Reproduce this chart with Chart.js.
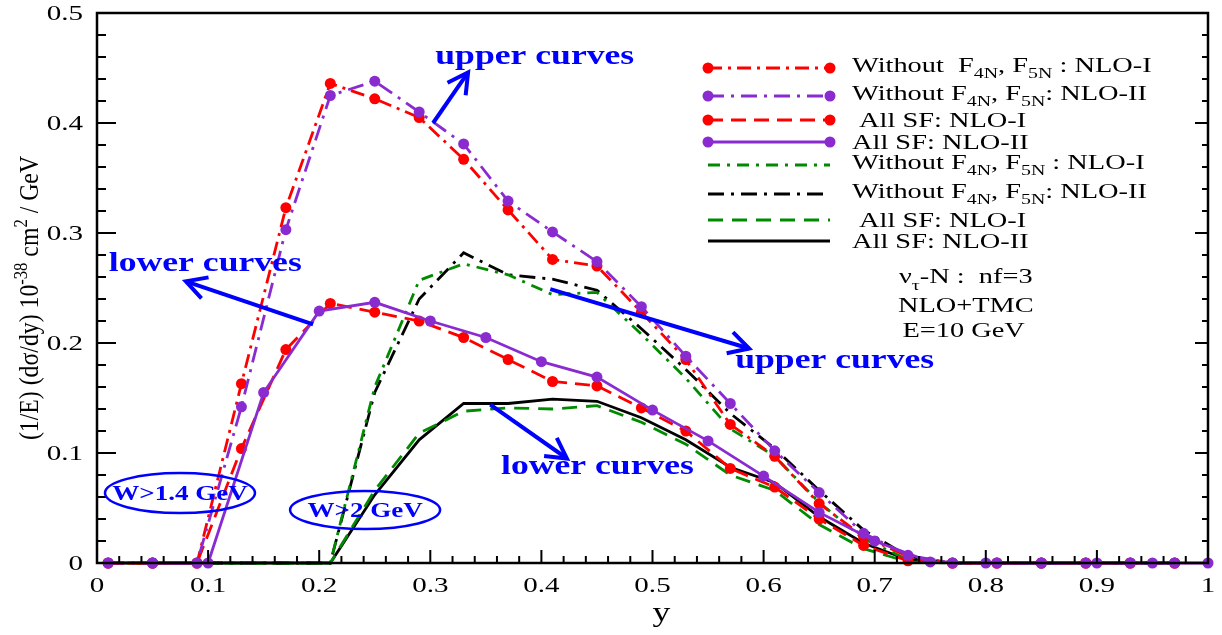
<!DOCTYPE html>
<html>
<head>
<meta charset="utf-8">
<script src="https://cdn.jsdelivr.net/npm/chart.js@4.4.1/dist/chart.umd.min.js"></script>
<style>
  html, body { margin: 0; padding: 0; background: #fff; overflow: hidden; }
  #wrap { width: 1222px; height: 635px; position: relative; }
</style>
</head>
<body>
<div id="wrap"><canvas id="chart" width="1222" height="635"></canvas></div>
<script>
// ---- data ---------------------------------------------------------------
// y grid used by the NLO-I / NLO-II "Without" and "All SF" curves (step 0.04)
const yA = [0.01, 0.05, 0.09, 0.13, 0.17, 0.21, 0.25, 0.29, 0.33, 0.37, 0.41, 0.45, 0.49,
            0.53, 0.57, 0.61, 0.65, 0.69, 0.73, 0.77, 0.81, 0.85, 0.89, 0.93, 0.97];
// y grid of the All SF NLO-II (W>1.4 GeV) curve (step 0.05)
const yB = [0.05, 0.10, 0.15, 0.20, 0.25, 0.30, 0.35, 0.40, 0.45, 0.50,
            0.55, 0.60, 0.65, 0.70, 0.75, 0.80, 0.85, 0.90, 0.95, 1.00];

// W > 1.4 GeV
const withoutNloI_w14  = [0, 0, 0, 0.163, 0.323, 0.436, 0.422, 0.405, 0.367, 0.321, 0.276, 0.270, 0.228,
                          0.185, 0.126, 0.097, 0.054, 0.024, 0.006, 0, 0, 0, 0, 0, 0];
const withoutNloII_w14 = [0, 0, 0, 0.142, 0.303, 0.425, 0.438, 0.410, 0.381, 0.329, 0.301, 0.274, 0.233,
                          0.188, 0.145, 0.102, 0.064, 0.027, 0.007, 0, 0, 0, 0, 0, 0];
const allSfNloI_w14    = [0, 0, 0, 0.104, 0.194, 0.236, 0.228, 0.220, 0.205, 0.185, 0.165, 0.161, 0.141,
                          0.120, 0.086, 0.069, 0.040, 0.016, 0.002, 0, 0, 0, 0, 0, 0];
const allSfNloII_w14   = [0, 0, 0.155, 0.229, 0.237, 0.220, 0.205, 0.183, 0.169, 0.139,
                          0.111, 0.079, 0.046, 0.020, 0.001, 0, 0, 0, 0, 0];

// W > 2 GeV
const withoutNloI_w2   = [0, 0, 0, 0, 0, 0, 0.160, 0.257, 0.272, 0.262, 0.244, 0.246, 0.208,
                          0.168, 0.122, 0.097, 0.055, 0.022, 0.003, 0, 0, 0, 0, 0, 0];
const withoutNloII_w2  = [0, 0, 0, 0, 0, 0, 0.155, 0.240, 0.282, 0.262, 0.258, 0.248, 0.213,
                          0.176, 0.136, 0.104, 0.066, 0.030, 0.006, 0, 0, 0, 0, 0, 0];
const allSfNloI_w2     = [0, 0, 0, 0, 0, 0, 0.066, 0.118, 0.138, 0.141, 0.140, 0.143, 0.128,
                          0.108, 0.080, 0.066, 0.035, 0.013, 0.001, 0, 0, 0, 0, 0, 0];
const allSfNloII_w2    = [0, 0, 0, 0, 0, 0, 0.062, 0.112, 0.145, 0.145, 0.149, 0.147, 0.132,
                          0.112, 0.087, 0.073, 0.042, 0.018, 0.003, 0, 0, 0, 0, 0, 0];

const seriesLabels = [
  'Without  F_{4N}, F_{5N} : NLO-I',
  'Without F_{4N}, F_{5N}: NLO-II',
  ' All SF: NLO-I',
  'All SF: NLO-II',
  'Without F_{4N}, F_{5N} : NLO-I',
  'Without F_{4N}, F_{5N}: NLO-II',
  ' All SF: NLO-I',
  'All SF: NLO-II'
];

const xTickLabels = ['0', '0.1', '0.2', '0.3', '0.4', '0.5', '0.6', '0.7', '0.8', '0.9', '1'];
const yTickLabels = ['0', '0.1', '0.2', '0.3', '0.4', '0.5'];

// ---- styling ------------------------------------------------------------
const RED = '#ff0000', VIOLET = '#8a2bd0', GREEN = '#008a00', BLACK = '#000000', BLUE = '#0000ff';
const SERIF = '"Liberation Serif", "Times New Roman", serif';
const SX = 1.32;   // horizontal stretch of the lettering

const styles = [
  { color: RED,    dash: [14, 6, 3, 6], marker: true,  order: 2 },
  { color: VIOLET, dash: [16, 7, 3, 7], marker: true,  order: 1 },
  { color: RED,    dash: [15, 8],       marker: true,  order: 2 },
  { color: VIOLET, dash: [],            marker: true,  order: 1 },
  { color: GREEN,  dash: [12, 7, 3, 7], marker: false, order: 3 },
  { color: BLACK,  dash: [16, 7, 3, 7], marker: false, order: 3 },
  { color: GREEN,  dash: [15, 9],       marker: false, order: 3 },
  { color: BLACK,  dash: [],            marker: false, order: 3 }
];
const seriesX = [yA, yA, yA, yB, yA, yA, yA, yA];
const seriesY = [withoutNloI_w14, withoutNloII_w14, allSfNloI_w14, allSfNloII_w14,
                 withoutNloI_w2, withoutNloII_w2, allSfNloI_w2, allSfNloII_w2];

// ---- rich text helpers (sub/superscripts) -------------------------------
function parseRich(s) {
  const runs = []; const re = /([_^])\{([^}]*)\}/g; let last = 0, m;
  while ((m = re.exec(s))) {
    if (m.index > last) runs.push({ t: s.slice(last, m.index), k: 0 });
    runs.push({ t: m[2], k: m[1] === '_' ? 1 : -1 });
    last = re.lastIndex;
  }
  if (last < s.length) runs.push({ t: s.slice(last), k: 0 });
  return runs;
}
function drawRich(ctx, s, x, y, o) {
  const size = o.size, weight = o.weight || 'normal';
  const sx = o.sx == null ? SX : o.sx, sy = o.sy || 1;
  const runs = parseRich(s);
  let w = 0;
  for (const r of runs) { ctx.font = `${weight} ${r.k ? size * 0.7 : size}px ${SERIF}`; w += ctx.measureText(r.t).width; }
  const W = w * sx;
  const x0 = o.align === 'center' ? x - W / 2 : o.align === 'right' ? x - W : x;
  ctx.save();
  ctx.translate(x0, y); ctx.scale(sx, sy);
  ctx.fillStyle = o.color || '#000'; ctx.textBaseline = 'alphabetic'; ctx.textAlign = 'left';
  let cx = 0;
  for (const r of runs) {
    const fs = r.k ? size * 0.7 : size;
    ctx.font = `${weight} ${fs}px ${SERIF}`;
    const dy = r.k === 1 ? size * 0.3 : r.k === -1 ? -size * 0.42 : 0;
    ctx.fillText(r.t, cx, dy);
    cx += ctx.measureText(r.t).width;
  }
  ctx.restore();
}

// ---- frame, ticks and tick labels ---------------------------------------
const framePlugin = {
  id: 'frame',
  afterDatasetsDraw(chart) {
    const ctx = chart.ctx, a = chart.chartArea, xs = chart.scales.x, ys = chart.scales.y;
    ctx.save();
    ctx.strokeStyle = '#000'; ctx.lineWidth = 2.5; ctx.setLineDash([]);
    ctx.strokeRect(a.left, a.top, a.right - a.left, a.bottom - a.top);
    ctx.lineWidth = 2;
    ctx.beginPath();
    for (let i = 0; i <= 50; i++) {              // x ticks every 0.02
      const px = xs.getPixelForValue(i * 0.02), major = i % 5 === 0;
      ctx.moveTo(px, a.bottom); ctx.lineTo(px, a.bottom - (major ? 13 : 7));
    }
    for (let i = 0; i <= 25; i++) {              // y ticks every 0.02
      const py = ys.getPixelForValue(i * 0.02), major = i % 5 === 0;
      ctx.moveTo(a.left, py); ctx.lineTo(a.left + (major ? 19 : 9), py);
      ctx.moveTo(a.right, py); ctx.lineTo(a.right - (major ? 13 : 6), py);
    }
    ctx.stroke();
    for (const t of xTickLabels) {
      drawRich(ctx, t, xs.getPixelForValue(parseFloat(t)), a.bottom + 29, { size: 22, align: 'center' });
    }
    for (const t of yTickLabels) {
      drawRich(ctx, t, a.left - 14, ys.getPixelForValue(parseFloat(t)) + 7, { size: 22, align: 'right' });
    }
    // axis titles
    drawRich(ctx, 'y', (a.left + a.right) / 2, a.bottom + 58, { size: 27 });
    ctx.translate(31, (a.top + a.bottom) / 2 + 10);
    ctx.rotate(-Math.PI / 2);
    drawRich(ctx, '(1/E) (d\u03c3/dy) 10^{-38} cm^{2} / GeV', 0, 7, { size: 22, align: 'center', sx: 1.08, sy: 1.2 });
    ctx.restore();
  }
};

// ---- legend drawn inside the frame --------------------------------------
const legendRows = [68, 96, 120, 142, 165, 194, 220, 241];
const legendPlugin = {
  id: 'richLegend',
  afterDraw(chart) {
    const ctx = chart.ctx;
    const x1 = 708, x2 = 830, tx = 852;
    seriesLabels.forEach((lab, i) => {
      const st = styles[i], y = legendRows[i];
      ctx.save();
      ctx.strokeStyle = st.color; ctx.lineWidth = 3; ctx.setLineDash(st.dash);
      ctx.beginPath(); ctx.moveTo(x1, y); ctx.lineTo(x2, y); ctx.stroke();
      if (st.marker) {
        ctx.fillStyle = st.color;
        [x1, x2].forEach(px => { ctx.beginPath(); ctx.arc(px, y, 5.5, 0, Math.PI * 2); ctx.fill(); });
      }
      ctx.restore();
      const sub = lab.indexOf('_{') >= 0;
      drawRich(ctx, lab, tx, y + (sub ? 4 : 7), { size: 21.5 });
    });
  }
};

// ---- annotations (positions in axis units) ------------------------------
const arrows = [
  { from: [0.3025, 0.400], to: [0.334, 0.446] },
  { from: [0.1945, 0.217], to: [0.0800, 0.256] },
  { from: [0.4080, 0.249], to: [0.5870, 0.195] },
  { from: [0.3540, 0.144], to: [0.4230, 0.095] }
];
const notes = [
  { text: 'upper curves', x: 0.394, y: 0.459 },
  { text: 'lower curves', x: 0.0975, y: 0.271 },
  { text: 'upper curves', x: 0.664, y: 0.183 },
  { text: 'lower curves', x: 0.4505, y: 0.086 }
];
const cuts = [
  { text: 'W>1.4 GeV', x: 0.0747, y: 0.0636, rx: 75, ry: 20 },
  { text: 'W>2 GeV',   x: 0.2413, y: 0.0482, rx: 75, ry: 19 }
];
const infoLines = [
  { text: '\u03bd_{\u03c4}-N :  nf=3', x: 0.7820, y: 0.2605 },
  { text: 'NLO+TMC',                 x: 0.7820, y: 0.2342 },
  { text: 'E=10 GeV',                x: 0.7800, y: 0.2118 }
];

const annotationPlugin = {
  id: 'notes',
  afterDraw(chart) {
    const ctx = chart.ctx, xs = chart.scales.x, ys = chart.scales.y;
    const P = (x, y) => [xs.getPixelForValue(x), ys.getPixelForValue(y)];
    ctx.save();
    ctx.strokeStyle = BLUE; ctx.lineCap = 'butt'; ctx.setLineDash([]);
    for (const a of arrows) {
      const [x1, y1] = P(a.from[0], a.from[1]), [x2, y2] = P(a.to[0], a.to[1]);
      const ang = Math.atan2(y2 - y1, x2 - x1), L = 23, s = 0.5;
      ctx.lineWidth = 4;
      ctx.beginPath(); ctx.moveTo(x1, y1); ctx.lineTo(x2, y2); ctx.stroke();
      ctx.beginPath();
      ctx.moveTo(x2 - L * Math.cos(ang - s), y2 - L * Math.sin(ang - s));
      ctx.lineTo(x2, y2);
      ctx.lineTo(x2 - L * Math.cos(ang + s), y2 - L * Math.sin(ang + s));
      ctx.stroke();
    }
    for (const n of notes) {
      const [px, py] = P(n.x, n.y);
      drawRich(ctx, n.text, px, py + 6, { size: 27, weight: 'bold', align: 'center', color: BLUE });
    }
    for (const c of cuts) {
      const [px, py] = P(c.x, c.y);
      ctx.lineWidth = 2.5;
      ctx.beginPath(); ctx.ellipse(px, py, c.rx, c.ry, 0, 0, Math.PI * 2); ctx.stroke();
      drawRich(ctx, c.text, px, py + 7, { size: 20.5, weight: 'bold', align: 'center', color: BLUE });
    }
    for (const t of infoLines) {
      const [px, py] = P(t.x, t.y);
      drawRich(ctx, t.text, px, py + 7, { size: 21.5, align: 'center' });
    }
    ctx.restore();
  }
};

// ---- chart --------------------------------------------------------------
const datasets = seriesY.map((vals, i) => ({
  label: seriesLabels[i].replace(/[_^]\{([^}]*)\}/g, '$1'),
  data: seriesX[i].map((x, j) => ({ x: x, y: vals[j] })),
  order: styles[i].order,
  borderColor: styles[i].color,
  backgroundColor: styles[i].color,
  borderWidth: 2.8,
  borderDash: styles[i].dash,
  pointRadius: styles[i].marker ? 5.5 : 0,
  pointHoverRadius: 0,
  pointBorderWidth: 0,
  pointBackgroundColor: styles[i].color,
  tension: 0,
  fill: false,
  clip: 10
}));

new Chart(document.getElementById('chart'), {
  type: 'line',
  data: { datasets },
  options: {
    responsive: false,
    animation: false,
    events: [],
    layout: { padding: { left: 0, top: 13, right: 14, bottom: 0 } },
    plugins: { legend: { display: false }, tooltip: { enabled: false } },
    scales: {
      x: {
        type: 'linear', min: 0, max: 1,
        grid: { display: false }, border: { display: false },
        ticks: { display: false, stepSize: 0.1 },
        afterFit(s) { s.height = 72; }
      },
      y: {
        type: 'linear', min: 0, max: 0.5,
        grid: { display: false }, border: { display: false },
        ticks: { display: false, stepSize: 0.1 },
        afterFit(s) { s.width = 97; }
      }
    }
  },
  plugins: [framePlugin, legendPlugin, annotationPlugin]
});
</script>
</body>
</html>
